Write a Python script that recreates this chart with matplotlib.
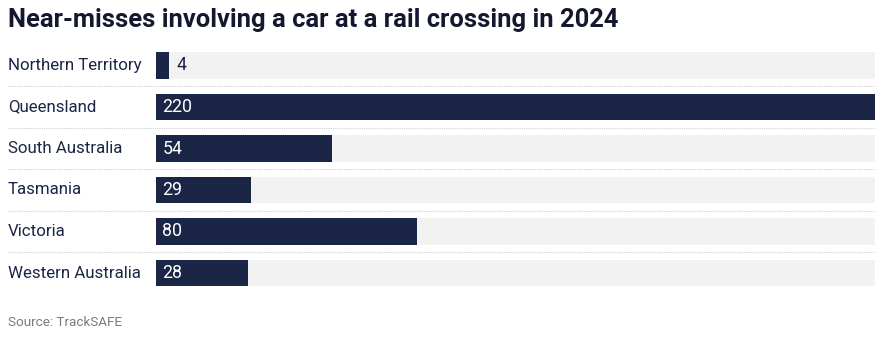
import matplotlib.pyplot as plt
from matplotlib.transforms import blended_transform_factory

states = ["Northern Territory", "Queensland", "South Australia",
          "Tasmania", "Victoria", "Western Australia"]
near_misses = [4, 220, 54, 29, 80, 28]

navy = "#1b2545"
track = "#f2f2f2"

plt.rcParams["font.family"] = ["Roboto", "DejaVu Sans"]

fig = plt.figure(figsize=(8.88, 3.41), dpi=100)
ax = fig.add_axes([156 / 888, 1 - 293.75 / 341, (875 - 156) / 888, 249 / 341])

ypos = list(range(len(states)))
vmax = max(near_misses)
ax.barh(ypos, [vmax] * len(states), height=0.65, color=track, zorder=1)
ax.barh(ypos, near_misses, height=0.65, color=navy, zorder=2)
ax.set_xlim(0, vmax)
ax.set_ylim(len(states) - 0.5, -0.5)
ax.axis("off")

trans = blended_transform_factory(fig.transFigure, ax.transData)
for y, name, v in zip(ypos, states, near_misses):
    ax.text(8 / 888, y, name, transform=trans, ha="left", va="center",
            fontsize=12.2, color="#1b2545")
    if v / vmax > 0.05:
        ax.annotate(str(v), (0, y), xytext=(4.5, 0), textcoords="offset points",
                    ha="left", va="center", fontsize=12.8, color="white", zorder=3)
    else:
        ax.annotate(str(v), (v, y), xytext=(5, 0), textcoords="offset points",
                    ha="left", va="center", fontsize=12.8, color=navy, zorder=3)
    if y < len(states) - 1:
        ax.plot([8 / 888, 875 / 888], [y + 0.5, y + 0.5], transform=trans,
                color="#cfcfcf", lw=0.8, ls=(0, (1, 1)), clip_on=False)

fig.text(8 / 888, 1 - 20 / 341, "Near-misses involving a car at a rail crossing in 2024",
         ha="left", va="center", fontsize=18.4, fontweight="bold", color="#14182e")
fig.text(8 / 888, 1 - 323 / 341, "Source: TrackSAFE", ha="left", va="center",
         fontsize=9.7, color="#7a7a7a")

fig.savefig("out.png", dpi=100)
